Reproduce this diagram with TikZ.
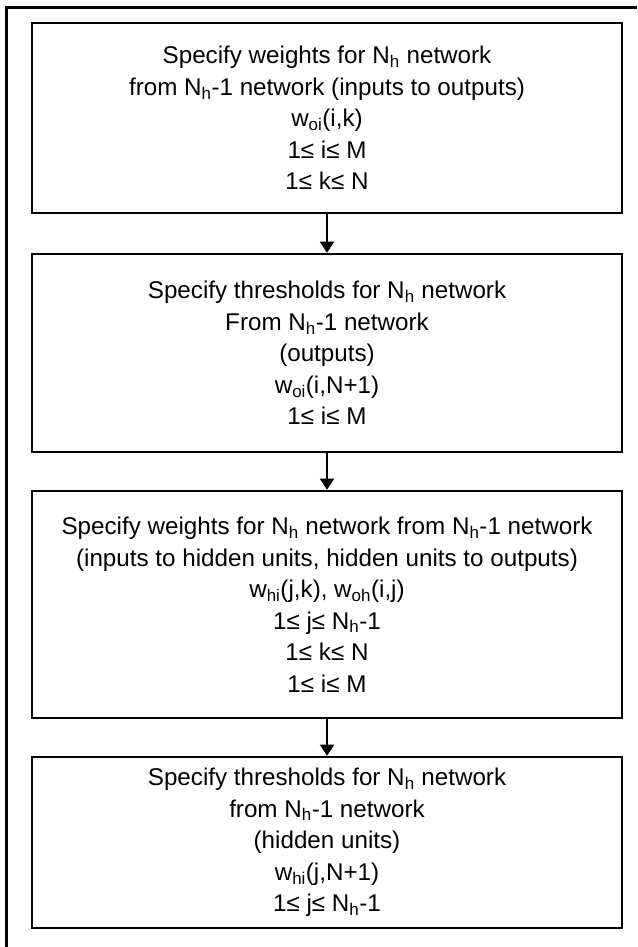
\documentclass[tikz,border=0pt]{standalone}
\usepackage{fontspec}
\setmainfont{Liberation Sans}
\usetikzlibrary{arrows.meta}
\newcommand\sbs[1]{\textsubscript{#1}}
\begin{document}
\begin{tikzpicture}[x=1pt,y=-1pt,
  box/.style={draw, line width=2.6pt, minimum width=590pt, inner sep=0pt, align=center, font=\fontsize{24.2}{31.5}\selectfont},
  arr/.style={line width=2pt, -{Triangle[length=11pt,width=14pt]}}]
\useasboundingbox (0,0) rectangle (637,947);
\draw[line width=3pt] (6.5,947) -- (6.5,7.5) -- (637,7.5);
\node[box, minimum height=190pt] (b1) at (327,118) {Specify weights for N\sbs{h} network\\from N\sbs{h}-1 network (inputs to outputs)\\w\sbs{oi}(i,k)\\1≤ i≤ M\\1≤ k≤ N};
\node[box, minimum height=198pt] (b2) at (327,353) {Specify thresholds for N\sbs{h} network\\From N\sbs{h}-1 network\\(outputs)\\w\sbs{oi}(i,N+1)\\1≤ i≤ M};
\node[box, minimum height=227pt] (b3) at (327,604.5) {Specify weights for N\sbs{h} network from N\sbs{h}-1 network\\(inputs to hidden units, hidden units to outputs)\\w\sbs{hi}(j,k), w\sbs{oh}(i,j)\\1≤ j≤ N\sbs{h}-1\\1≤ k≤ N\\1≤ i≤ M};
\node[box, minimum height=171pt] (b4) at (327,842.5) {Specify thresholds for N\sbs{h} network\\from N\sbs{h}-1 network\\(hidden units)\\w\sbs{hi}(j,N+1)\\1≤ j≤ N\sbs{h}-1};
\draw[arr] (b1.south) -- (b2.north);
\draw[arr] (b2.south) -- (b3.north);
\draw[arr] (b3.south) -- (b4.north);
\end{tikzpicture}
\end{document}
